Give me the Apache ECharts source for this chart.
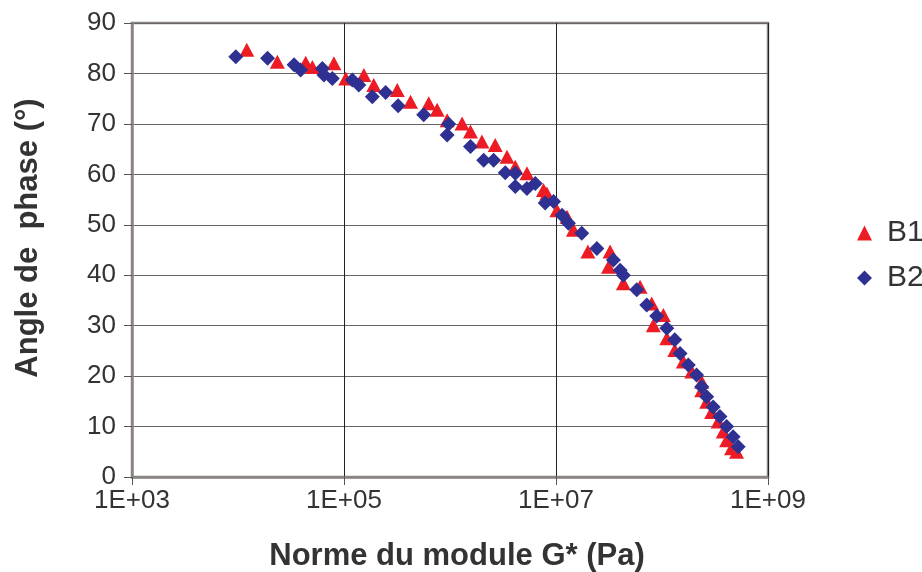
<!DOCTYPE html>
<html><head><meta charset="utf-8">
<script src="https://cdn.jsdelivr.net/npm/echarts@6/dist/echarts.min.js"></script>
<style>html,body{margin:0;padding:0;background:#fff}#c{width:922px;height:572px}</style>
</head><body><div id="c"></div>
<script>
// B1 (red triangles): [G* (Pa), phase angle (deg)]
const b1G = [1.21e4,2.35e4,4.35e4,5.03e4,8.03e4,1.04e5,1.54e5,1.91e5,3.18e5,4.24e5,6.3e5,7.56e5,9.4e5,1.3e6,1.56e6,2.0e6,2.67e6,3.45e6,4.13e6,5.32e6,7.62e6,8.2e6,1.02e7,1.27e7,1.46e7,2.0e7,3.24e7,3.13e7,4.32e7,6.21e7,8.0e7,1.03e8,8.28e7,1.11e8,1.32e8,1.59e8,1.91e8,2.37e8,2.37e8,2.64e8,2.94e8,3.39e8,3.78e8,4.07e8,4.53e8,5.05e8];
const b1A = [84.7,82.3,82.1,81.3,82.0,79.0,79.7,77.7,76.7,74.4,74.1,72.8,70.7,70.1,68.5,66.5,65.8,63.5,61.5,60.2,56.9,56.2,52.9,51.6,49.0,44.7,44.7,41.7,38.4,37.7,34.4,32.1,30.1,27.5,25.2,22.9,20.9,18.9,17.2,14.9,12.9,11.0,9.0,7.3,5.7,5.0];
// B2 (blue diamonds)
const b2G = [9.54e3,1.9e4,3.38e4,3.9e4,6.25e4,6.47e4,7.76e4,1.2e5,1.38e5,1.85e5,2.47e5,3.24e5,5.65e5,9.4e5,9.72e5,1.56e6,2.08e6,2.58e6,3.32e6,4.13e6,4.13e6,5.32e6,6.37e6,7.91e6,9.48e6,1.14e7,1.31e7,1.75e7,2.43e7,3.48e7,4.03e7,4.32e7,5.78e7,7.18e7,8.91e7,1.11e8,1.32e8,1.48e8,1.77e8,2.12e8,2.37e8,2.64e8,3.04e8,3.52e8,4.07e8,4.69e8,5.23e8];
const b2A = [83.3,83.0,81.7,80.7,81.0,79.7,79.0,78.7,77.7,75.4,76.2,73.6,71.8,67.8,70.0,65.5,62.8,62.8,60.3,60.2,57.6,57.2,58.2,54.3,54.6,51.9,50.3,48.3,45.3,43.0,41.0,40.0,37.1,34.1,31.9,29.5,27.2,24.5,22.2,20.2,17.9,15.9,13.9,12.0,10.0,8.0,6.0];
const seriesNames = ['B1','B2'];
const xTitle = 'Norme du module G* (Pa)';
const yTitle = 'Angle de  phase (°)';

const zip = (g,a) => g.map((v,i)=>[v,a[i]]);
const chart = echarts.init(document.getElementById('c'), null, {renderer:'canvas'});
const txt = '#333';
const ff = 'Liberation Sans, Arial, sans-serif';
chart.setOption({
  animation:false,
  backgroundColor:'#fff',
  grid:{left:132,right:154,top:23,bottom:95,show:true,borderColor:'#8c8482',borderWidth:2.5,backgroundColor:'transparent',
        containLabel:false, outerBoundsMode:'none'},
  legend:{
    orient:'vertical', left:852, top:209, itemGap:7,
    itemWidth:15, itemHeight:15,
    textStyle:{fontFamily:ff, fontSize:30, lineHeight:30, color:txt, padding:[0,0,8,10]},
    data:[{name:'B1',icon:'triangle'},{name:'B2',icon:'diamond'}]
  },
  xAxis:{
    type:'log', logBase:10, min:1e3, max:1e9, interval:2,
    name:xTitle, nameLocation:'middle', nameGap:64,
    nameTextStyle:{fontFamily:ff, fontSize:31, fontWeight:'bold', color:txt, padding:[0,0,0,14]},
    axisLine:{show:true,lineStyle:{color:'#8c8482',width:2.5}},
    axisTick:{show:true,length:8,lineStyle:{color:'#555',width:1}},
    minorTick:{show:false},
    axisLabel:{fontFamily:ff, fontSize:26, color:txt, margin:11,
      formatter:v=>{const e=Math.round(Math.log10(v));return '1E+'+(e<10?'0':'')+e;}},
    splitLine:{show:true,lineStyle:{color:'#222',width:1}}
  },
  yAxis:{
    type:'value', min:0, max:90, interval:10,
    name:yTitle, nameLocation:'middle', nameGap:88, nameRotate:90,
    nameTextStyle:{fontFamily:ff, fontSize:31, fontWeight:'bold', color:txt, padding:[0,0,0,24]},
    axisLine:{show:true,lineStyle:{color:'#8c8482',width:2.5}},
    axisTick:{show:true,length:8,lineStyle:{color:'#555',width:1}},
    axisLabel:{fontFamily:ff, fontSize:26, color:txt, margin:16},
    splitLine:{show:true,lineStyle:{color:'#666',width:1}}
  },
  series:[
    {name:seriesNames[0], type:'scatter', symbol:'triangle', symbolSize:[15,14],
     itemStyle:{color:'#ed1c24',opacity:1}, data:zip(b1G,b1A)},
    {name:seriesNames[1], type:'scatter', symbol:'diamond', symbolSize:[15,15],
     itemStyle:{color:'#2e3192',opacity:1}, data:zip(b2G,b2A)}
  ]
});
</script></body></html>
